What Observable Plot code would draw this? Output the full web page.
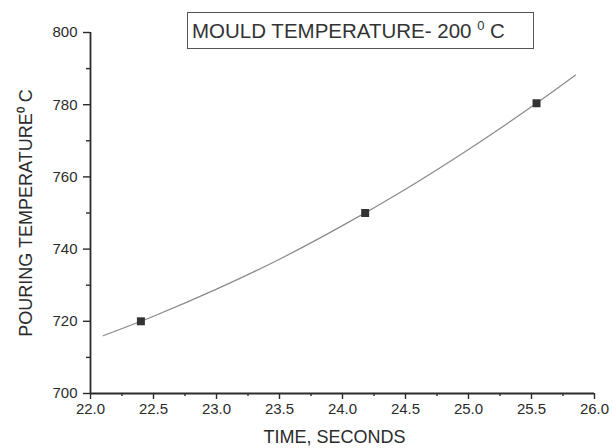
<!DOCTYPE html>
<html>
<head>
<meta charset="utf-8">
<script src="https://cdn.jsdelivr.net/npm/d3@7"></script>
<script src="https://cdn.jsdelivr.net/npm/@observablehq/plot@0.6"></script>
<style>
  html, body { margin: 0; padding: 0; background: #fff; }
  #wrap { position: relative; width: 613px; height: 448px; }
  #title {
    position: absolute; left: 187px; top: 12px; width: 347px; height: 37px;
    box-sizing: border-box; border: 1px solid #555; background: #fff;
    font-family: "Liberation Sans", Arial, sans-serif; font-size: 20.5px; color: #333;
    line-height: 35px; padding-left: 4px; white-space: nowrap;
  }
  #title sup { font-size: 13px; vertical-align: 8px; line-height: 0; }
</style>
</head>
<body>
<div id="wrap"></div>
<script>
// ---- data ----
const timeTicks = [22.0, 22.5, 23.0, 23.5, 24.0, 24.5, 25.0, 25.5, 26.0];
const timeMinor = [22.25, 22.75, 23.25, 23.75, 24.25, 24.75, 25.25, 25.75];
const tempTicks = [700, 720, 740, 760, 780, 800];
const tempMinor = [710, 730, 750, 770, 790];

const pointTime = [22.4, 24.18, 25.54];
const pointTemp = [720, 750, 780.4];

const curveTime = [22.1, 22.5, 23.0, 23.5, 24.0, 24.5, 25.0, 25.5, 25.85];
const curveTemp = [716.0, 721.4, 728.9, 737.2, 746.5, 756.6, 767.6, 779.4, 788.2];

const titleText = "MOULD TEMPERATURE- 200 ";
const xLabel = "TIME, SECONDS";
const yLabel = "POURING TEMPERATURE\u2070 C";

const points = pointTime.map((t, i) => ({time: t, temp: pointTemp[i]}));
const curve = curveTime.map((t, i) => ({time: t, temp: curveTemp[i]}));

const ink = "#2b2b2b";

const chart = Plot.plot({
  width: 613,
  height: 448,
  marginLeft: 90,
  marginRight: 19,
  marginTop: 32,
  marginBottom: 55,
  style: {fontFamily: "'Liberation Sans', Arial, sans-serif", fontSize: "15px", color: ink, background: "transparent"},
  x: {domain: [22, 26]},
  y: {domain: [700, 800]},
  marks: [
    Plot.axisX(timeTicks, {tickSize: 6, tickPadding: 4, tickFormat: d3.format(".1f"), label: null, strokeWidth: 1.4, fontSize: 15}),
    Plot.axisX(timeMinor, {tickSize: 3, tickFormat: () => "", label: null, strokeWidth: 1.4}),
    Plot.axisY(tempTicks, {tickSize: 7, tickPadding: 6, tickFormat: d3.format("d"), label: null, strokeWidth: 1.4, fontSize: 15}),
    Plot.axisY(tempMinor, {tickSize: 4, tickFormat: () => "", label: null, strokeWidth: 1.4}),
    Plot.ruleY([700], {stroke: ink, strokeWidth: 1.8}),
    Plot.ruleX([22], {stroke: ink, strokeWidth: 1.8}),
    Plot.line(curve, {x: "time", y: "temp", curve: "catmull-rom", stroke: "#8a8a8a", strokeWidth: 1.2}),
    Plot.dot(points, {x: "time", y: "temp", symbol: "square", r: 4.5, fill: "#333", stroke: "none"}),
    Plot.text([xLabel], {frameAnchor: "bottom", textAnchor: "middle", dx: -8, dy: 44, lineAnchor: "middle", fontSize: 18, fill: ink}),
    Plot.text([yLabel], {frameAnchor: "left", textAnchor: "middle", dx: -64, rotate: -90, lineAnchor: "middle", fontSize: 18, fill: ink})
  ]
});

const wrap = document.getElementById("wrap");
wrap.appendChild(chart);
const title = document.createElement("div");
title.id = "title";
title.innerHTML = titleText + "<sup>0</sup> C";
wrap.appendChild(title);
</script>
</body>
</html>
